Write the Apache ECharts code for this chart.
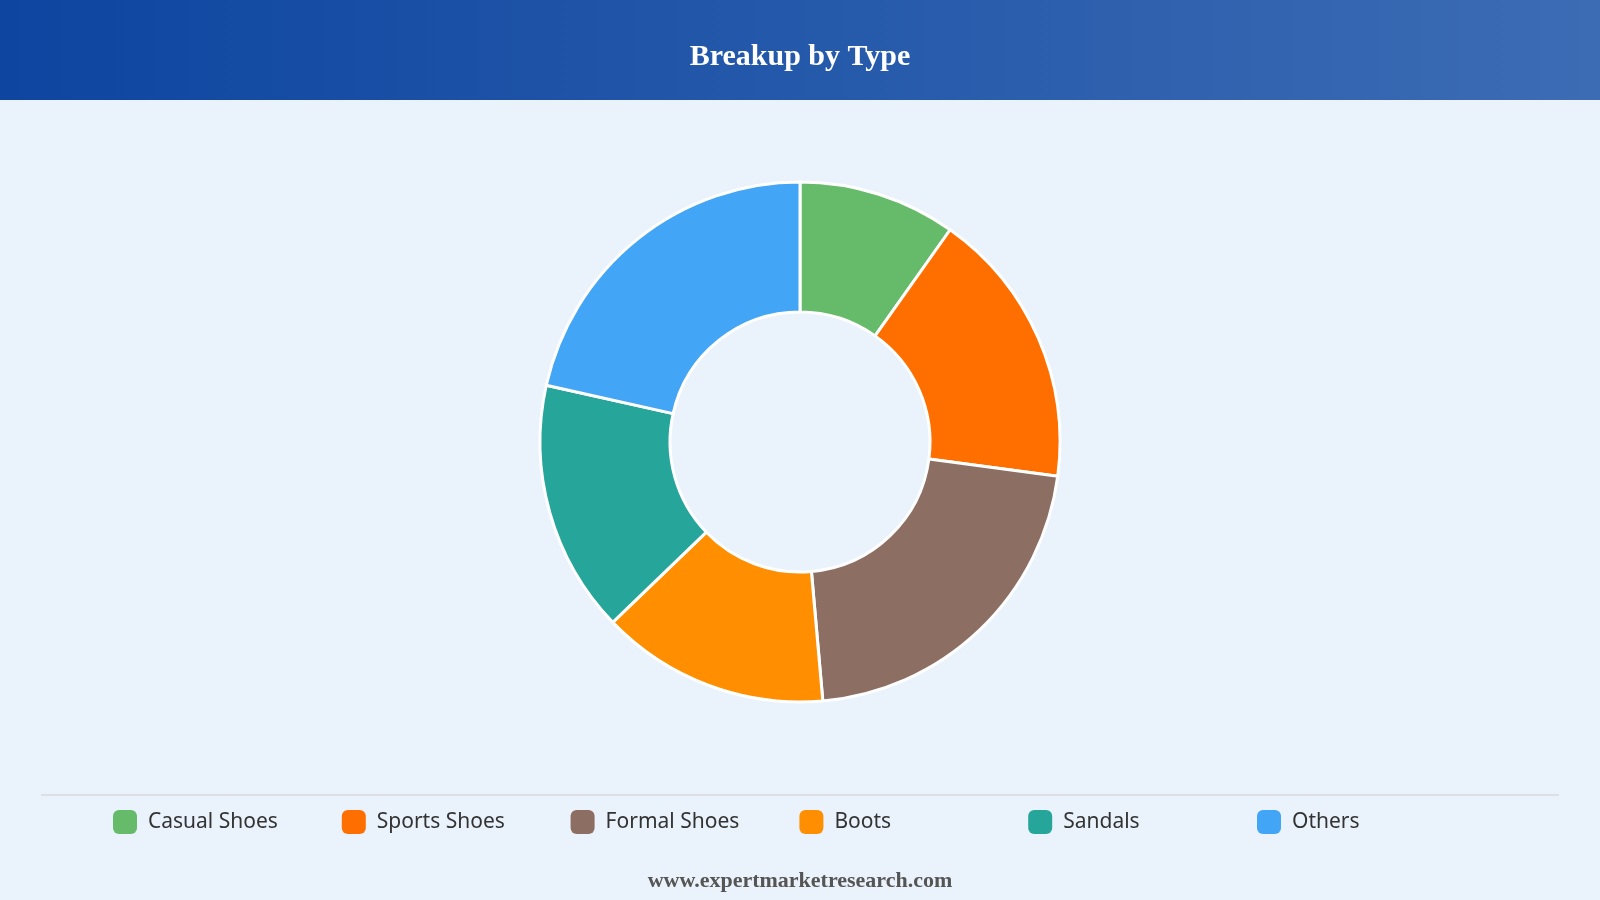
<!DOCTYPE html>
<html>
<head>
<meta charset="utf-8">
<style>
  html, body { margin: 0; padding: 0; background: #eaf2fb; }
  #chart { width: 1600px; height: 900px; }
</style>
<script src="https://cdn.jsdelivr.net/npm/echarts@6/dist/echarts.min.js"></script>
</head>
<body>
<div id="chart"></div>
<script>
  // slice data (share of the ring, %)
  var categories = ['Casual Shoes', 'Sports Shoes', 'Formal Shoes', 'Boots', 'Sandals', 'Others'];
  var shares = [9.8, 17.3, 21.5, 14.2, 15.7, 21.5];
  var colors = ['#66bb6a', '#ff6f00', '#8d6e63', '#ff8f00', '#26a69a', '#42a5f5'];

  var chart = echarts.init(document.getElementById('chart'));

  var pieData = [];
  for (var i = 0; i < categories.length; i++) {
    pieData.push({ name: categories[i], value: shares[i], itemStyle: { color: colors[i] } });
  }

  // one legend per item so they sit on an even grid like the original
  var legends = categories.map(function (name, idx) {
    return {
      left: 113 + idx * 228.8,
      top: 810,
      padding: 0,
      icon: 'roundRect',
      itemWidth: 24,
      itemHeight: 24,
      itemStyle: { borderWidth: 0 },
      selectedMode: false,
      data: [name],
      textStyle: {
        color: '#333333',
        fontFamily: 'Noto Sans',
        fontSize: 21,
        padding: [0, 0, 0, 6]
      }
    };
  });

  var option = {
    backgroundColor: '#eaf2fb',
    animation: false,
    graphic: [
      {
        type: 'rect',
        left: 0, top: 0, z: 0,
        shape: { width: 1600, height: 100 },
        style: {
          fill: new echarts.graphic.LinearGradient(0, 0, 1, 0, [
            { offset: 0, color: '#0d45a0' },
            { offset: 1, color: '#3c6cb4' }
          ])
        }
      },
      {
        type: 'line',
        z: 1,
        shape: { x1: 41, y1: 795, x2: 1559, y2: 795 },
        style: { stroke: '#dcdfe3', lineWidth: 2 }
      }
    ],
    title: [
      {
        text: 'Breakup by Type',
        left: 'center',
        top: 37,
        textStyle: {
          color: '#ffffff',
          fontFamily: 'Liberation Serif',
          fontWeight: 'bold',
          fontSize: 30
        }
      },
      {
        text: 'www.expertmarketresearch.com',
        left: 'center',
        top: 865,
        textStyle: {
          color: '#555555',
          fontFamily: 'Liberation Serif',
          fontWeight: 'bold',
          fontSize: 22
        }
      }
    ],
    legend: legends,
    series: [
      {
        type: 'pie',
        center: [800, 442],
        radius: [130, 260],
        startAngle: 90,
        clockwise: true,
        label: { show: false },
        labelLine: { show: false },
        itemStyle: { borderColor: '#ffffff', borderWidth: 3 },
        emphasis: { disabled: true },
        data: pieData
      }
    ]
  };

  chart.setOption(option);
</script>
</body>
</html>
